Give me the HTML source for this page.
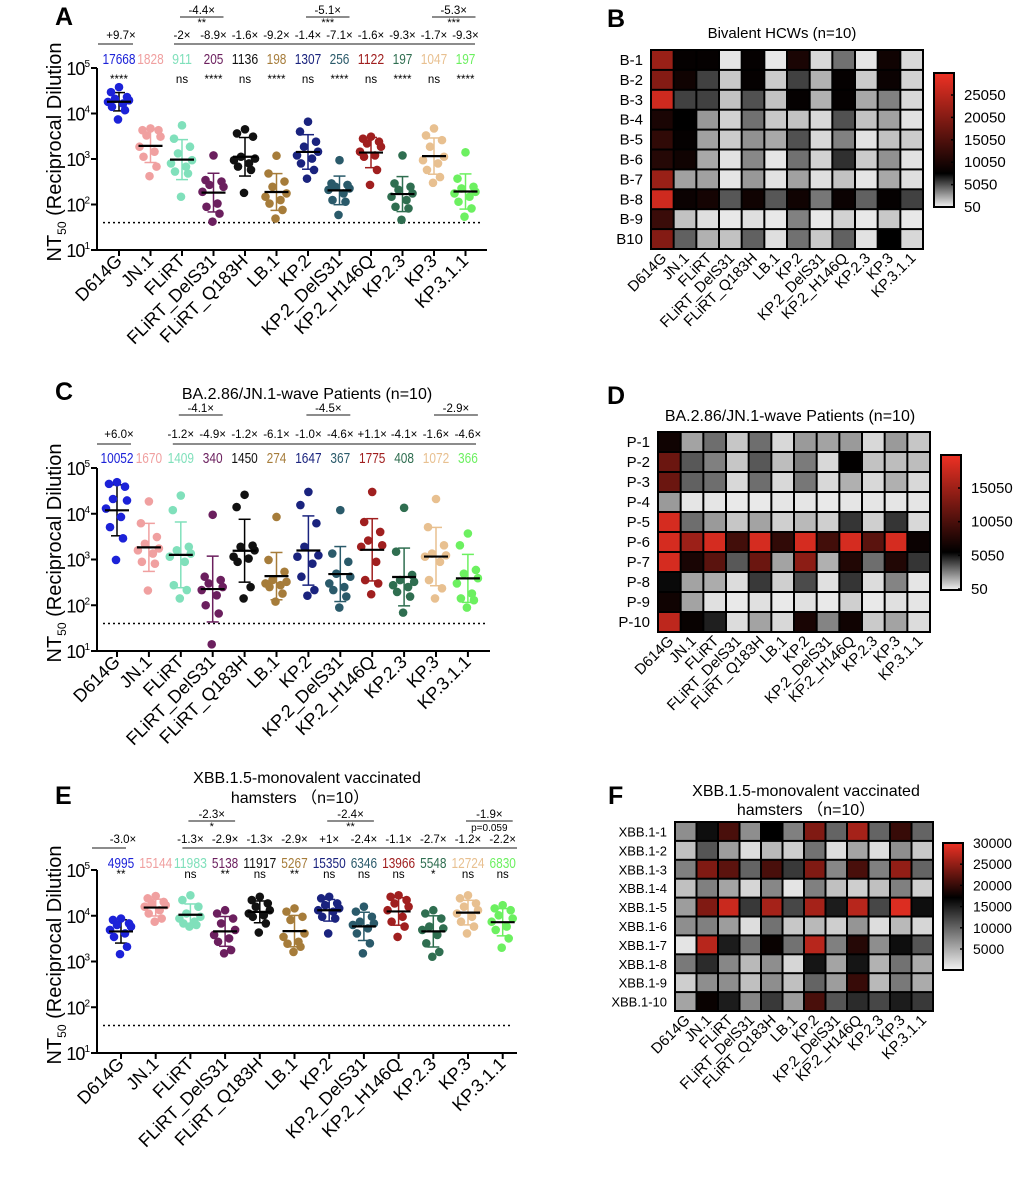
<!DOCTYPE html>
<html><head><meta charset="utf-8">
<style>
html,body{margin:0;padding:0;background:#fff;}
svg{display:block;font-family:"Liberation Sans",Arial,sans-serif;}
</style></head>
<body>
<svg id="fig" width="1020" height="1200" viewBox="0 0 1020 1200" xmlns="http://www.w3.org/2000/svg">
<rect x="0" y="0" width="1020" height="1200" fill="#fff"/>
<text x="55" y="25" font-size="25" font-weight="bold">A</text>
<text x="607" y="27" font-size="25" font-weight="bold">B</text>
<text x="55" y="400" font-size="25" font-weight="bold">C</text>
<text x="607" y="404" font-size="25" font-weight="bold">D</text>
<text x="55" y="804" font-size="25" font-weight="bold">E</text>
<text x="608" y="804" font-size="25" font-weight="bold">F</text>
<text x="782" y="38" font-size="15" text-anchor="middle">Bivalent HCWs (n=10)</text>
<text x="307" y="399" font-size="16" text-anchor="middle">BA.2.86/JN.1-wave Patients (n=10)</text>
<text x="790" y="421" font-size="16" text-anchor="middle">BA.2.86/JN.1-wave Patients (n=10)</text>
<text x="307" y="783" font-size="16" text-anchor="middle">XBB.1.5-monovalent vaccinated</text>
<text x="300" y="803" font-size="16" text-anchor="middle">hamsters （n=10）</text>
<text x="806" y="796" font-size="16" text-anchor="middle">XBB.1.5-monovalent vaccinated</text>
<text x="806" y="815" font-size="16" text-anchor="middle">hamsters （n=10）</text>
<defs>
<linearGradient id="gB" x1="0" y1="0" x2="0" y2="1"><stop offset="0" stop-color="#ee3124"/><stop offset="0.75" stop-color="#000"/><stop offset="1" stop-color="#f2f2f2"/></linearGradient>
<linearGradient id="gD" x1="0" y1="0" x2="0" y2="1"><stop offset="0" stop-color="#ee3124"/><stop offset="0.72" stop-color="#000"/><stop offset="1" stop-color="#f2f2f2"/></linearGradient>
<linearGradient id="gF" x1="0" y1="0" x2="0" y2="1"><stop offset="0" stop-color="#ee3124"/><stop offset="0.43" stop-color="#000"/><stop offset="1" stop-color="#f2f2f2"/></linearGradient>
</defs>
</svg>
<script>
const categories=['D614G','JN.1','FLiRT','FLiRT_DelS31','FLiRT_Q183H','LB.1','KP.2','KP.2_DelS31','KP.2_H146Q','KP.2.3','KP.3','KP.3.1.1'];
const groupColors=['#1c22d8','#f0a0a0','#80e0bb','#6b1f5e','#111111','#a67c3a','#1a237e','#2a5a6a','#a01f1f','#2f6e50','#e8c090','#6cf060'];

const titersA=[
[38000,29500,23000,21000,19500,18000,16500,14000,11800,7400],
[4700,4300,4300,3300,3100,1860,1450,1120,680,420],
[5500,2800,1860,1330,940,800,680,530,480,148],
[1200,345,320,270,245,190,105,89,63,42],
[4500,3650,3100,1120,1020,940,800,680,575,180],
[1180,480,320,245,175,148,125,105,76,49],
[6600,4000,2400,1860,1450,1200,1020,800,575,370],
[940,290,270,245,225,210,175,125,115,59],
[3100,2800,2400,2200,1860,1450,1200,1120,575,270],
[1200,290,245,210,175,148,125,89,82,46],
[4700,3300,2600,1860,1120,940,800,575,400,300],
[1400,370,245,225,190,175,148,115,82,54]];
const foldA=['+9.7×','','-2×','-8.9×','-1.6×','-9.2×','-1.4×','-7.1×','-1.6×','-9.3×','-1.7×','-9.3×'];
const valuesA=['17668','1828','911','205','1136','198','1307','256','1122','197','1047','197'];
const starsA=['****','','ns','****','ns','****','ns','****','ns','****','ns','****'];
const bracketsA=[[2,3,'-4.4×','**'],[6,7,'-5.1×','***'],[10,11,'-5.3×','***']];

const titersC=[
[49000,45000,39000,21000,19500,13000,8500,5100,2900,980],
[18600,6200,3100,2200,1740,1590,1350,890,810,210],
[25000,12000,1900,1590,1350,1150,890,275,215,141],
[9500,420,355,300,250,215,165,100,66,14],
[26000,14000,2000,1900,1590,1150,1050,890,250,141],
[8500,980,540,355,325,300,275,250,180,120],
[30000,15500,6200,1900,1230,1150,810,420,215,162],
[12000,1350,890,490,420,300,250,215,155,89],
[30000,6600,4000,2600,2040,1900,890,355,300,174],
[13500,1480,460,355,325,275,250,195,155,69],
[21000,5100,2040,1350,1230,1150,890,355,235,141],
[3700,2040,590,490,390,300,180,141,129,89]];
const foldC=['+6.0×','','-1.2×','-4.9×','-1.2×','-6.1×','-1.0×','-4.6×','+1.1×','-4.1×','-1.6×','-4.6×'];
const valuesC=['10052','1670','1409','340','1450','274','1647','367','1775','408','1072','366'];
const starsC=['','','','','','','','','','','',''];
const bracketsC=[[2,3,'-4.1×',''],[6,7,'-4.5×',''],[10,11,'-2.9×','']];

const titersE=[
[8700,8100,6800,6300,5800,4900,4100,3450,2100,1450],
[27000,24000,20000,18600,17000,15800,13200,11200,8700,7400],
[28000,22000,15800,11200,9500,8700,7400,6800,6300,5800],
[13200,11200,8700,6800,4900,3800,3200,2700,1780,1510],
[26000,22000,18600,15800,13200,11200,10200,9500,6800,4300],
[14500,12300,9500,8100,4100,3450,2700,2450,2100,1620],
[26000,24000,18600,17000,14500,13200,12300,9500,8700,4100],
[15800,12300,9500,7400,6800,6300,5300,4100,2500,1510],
[28000,26000,22000,18600,15800,13200,9500,7400,5800,3450],
[13200,11200,8700,5800,5300,4900,3800,2500,1620,1270],
[28000,24000,18600,15800,13200,11200,9500,7400,5800,4100],
[17000,14500,13200,10200,8700,7400,5800,4900,3200,2000]];
const foldE=['-3.0×','','-1.3×','-2.9×','-1.3×','-2.9×','+1×','-2.4×','-1.1×','-2.7×','-1.2×','-2.2×'];
const valuesE=['4995','15144','11983','5138','11917','5267','15350','6346','13966','5548','12724','6830'];
const starsE=['**','','ns','**','ns','**','ns','ns','ns','*','ns','ns'];
const bracketsE=[[2,3,'-2.3×','*'],[6,7,'-2.4×','**'],[10,11,'-1.9×','p=0.059']];

const rowsB=['B-1','B-2','B-3','B-4','B-5','B-6','B-7','B-8','B-9','B10'];
const heatB=[
[22,8,8,0.4,8,0.3,10,0.8,4,0.4,9,0.8],
[20,9,5.5,1.3,8,1.2,5.5,2,8,1.2,8.5,1],
[27,5.5,5.5,1.5,5,1.5,8,2,8,2.3,3.5,0.8],
[10,7.5,2.8,1,4,1.3,1.5,0.8,5,1.5,2.5,0.5],
[12,8,2.5,1.2,3,2.3,5,0.8,3.5,0.5,1.5,1.2],
[11,9,2.3,0.5,3.3,0.4,4,1,6,1.2,3,0.5],
[22,2.5,2.5,0.4,2.8,0.5,2.5,0.6,1.5,0.4,2.3,0.6],
[27,8.5,9.5,4.8,9,4.8,9,3.8,8.5,4.5,8,5.5],
[13,1.5,0.6,0.3,0.6,0.3,3.5,0.3,1,0.3,1.3,0.3],
[20,4.5,2,1.5,4.5,0.6,4,1.3,4.5,0.5,7.5,0.8]];
const rowsD=['P-1','P-2','P-3','P-4','P-5','P-6','P-7','P-8','P-9','P-10'];
const heatD=[
[6.5,1.8,3,1,3,0.6,2,1.8,2,0.6,2,1],
[12,3.5,2.6,1,3.5,1.2,2.7,0.6,5.6,1.1,1.2,1.2],
[12,3.3,3,0.6,3,0.6,2.8,0.6,1.5,0.6,1.5,0.6],
[2,0.3,0.3,0.2,0.2,0.3,0.3,0.2,0.3,0.3,0.3,0.3],
[18.5,3,2,1,1.8,0.8,1.3,0.8,4.3,0.8,4.3,0.6],
[18.5,15,18.5,9.5,18.5,8.5,18.5,9.5,18.5,11,18.5,6.2],
[18.5,7,11,3.5,12,1.8,14,1.5,7.5,3,7.5,4.3],
[5.3,1.8,1.6,0.5,4.2,0.8,3.8,0.4,4.3,0.5,2.5,0.3],
[6.5,1.8,0.4,0.2,0.4,0.2,0.4,0.2,0.8,0.2,0.4,0.3],
[17,6,4.8,0.5,1.8,0.6,7,2.5,6.5,0.9,1.8,0.5]];
const rowsF=['XBB.1-1','XBB.1-2','XBB.1-3','XBB.1-4','XBB.1-5','XBB.1-6','XBB.1-7','XBB.1-8','XBB.1-9','XBB.1-10'];
const heatF=[
[7,16,21,7,17,8,24,10,26,10,20,10],
[3.5,11,6,1.5,4,2.5,9,1.5,5.5,1.5,7,3],
[8,24,22,10,21,13,24,7.5,21,8,25,10],
[3.5,8,5.5,2,7.5,1,8,3.5,2.5,3.5,8,2.5],
[6,24,28,13,26,12,26,15,27,12,29,16],
[7,8,6,1.5,9,3,4,2.5,6.5,1.5,4,2],
[1,27,15,9,17.5,9,27,8,19,7,16,11],
[8.5,14,7.5,4,7,2,15.5,5.5,15.5,4.5,9,5],
[2.5,7,7,3.5,7,3.5,10,6,20,4,8.5,5],
[5.5,17.5,15,7.5,13,6,21,11,14,12,15,13]];
const ticksB=['25050','20050','15050','10050','5050','50'];
const ticksD=['15050','10050','5050','50'];
const ticksF=['30000','25000','20000','15000','10000','5000'];

const NS='http://www.w3.org/2000/svg';
const svg=document.getElementById('fig');
function mk(tag,attrs,parent){const e=document.createElementNS(NS,tag);for(const k in attrs)e.setAttribute(k,attrs[k]);(parent||svg).appendChild(e);return e;}

function drawScatter(id,L,titers,fold,values,stars,brackets){
  const g=mk('g',{});
  
  
  const dec=(L.yBot-L.yTop)/4;
  const ys=v=>L.yBot-(Math.log10(v)-1)*dec;
  const xs=i=>L.c0+i*L.step;
  const ya=mk('line',{x1:L.x0,y1:L.yTop,x2:L.x0,y2:L.yBot+1,stroke:'#000','stroke-width':2},g);
  
  
  const xa=mk('line',{x1:L.x0-1,y1:L.yBot,x2:L.xEnd,y2:L.yBot,stroke:'#000','stroke-width':2},g);
  
  
  for(let p=1;p<=5;p++){
    const y=ys(Math.pow(10,p));
    mk('line',{x1:L.x0-6,y1:y,x2:L.x0,y2:y,stroke:'#000','stroke-width':2},g);
    const t=mk('text',{x:L.x0-8,y:y+7,'font-size':18,'text-anchor':'end','letter-spacing':'-1'},g);
    
    
    t.textContent='10';
    const s=mk('tspan',{dy:-8,'font-size':10},t);s.textContent=String(p);
  }
  const yt=mk('text',{transform:'translate('+(L.x0-36)+','+L.yMid+') rotate(-90)','font-size':20,'text-anchor':'middle'},g);
  
  
  yt.textContent='NT';
  const sb=mk('tspan',{dy:5,'font-size':12},yt);sb.textContent='50';
  const rs=mk('tspan',{dy:-5},yt);rs.textContent=' (Reciprocal Dilution';
  const dl=mk('line',{x1:L.x0+6,y1:ys(40),x2:L.xEnd-4,y2:ys(40),stroke:'#000','stroke-width':1.5,'stroke-dasharray':'2,3'},g);
  
  
  const jit=[0,-8,8,-4,10,-11,4,-7,6,-1];
  categories.forEach((c,i)=>{
    const cx=xs(i), col=groupColors[i];
    mk('line',{x1:cx,y1:L.yBot,x2:cx,y2:L.yBot+6,stroke:'#000','stroke-width':2},g);
    const lb=mk('text',{transform:'translate('+(cx+4)+','+(L.yBot+12)+') rotate(-45)','font-size':18,'text-anchor':'end'},g);
    
    
    lb.textContent=c;
    const vals=titers[i];
    const logs=vals.map(v=>Math.log10(v));
    const m=logs.reduce((a,b)=>a+b,0)/logs.length;
    const sd=Math.sqrt(logs.reduce((a,b)=>a+(b-m)*(b-m),0)/(logs.length-1));
    const yHi=ys(Math.pow(10,m+sd)), yLo=ys(Math.pow(10,m-sd)), yM=ys(Math.pow(10,m));
    const ec=(i===0||i===4)?'#000':col;
    mk('line',{x1:cx,y1:yHi,x2:cx,y2:yLo,stroke:ec,'stroke-width':1.5},g);
    mk('line',{x1:cx-6,y1:yHi,x2:cx+6,y2:yHi,stroke:ec,'stroke-width':1.5},g);
    mk('line',{x1:cx-6,y1:yLo,x2:cx+6,y2:yLo,stroke:ec,'stroke-width':1.5},g);
    vals.forEach((v,k)=>{
      const pt=mk('circle',{cx:cx+jit[k],cy:ys(v),r:4.3,fill:col},g);
      
      
    });
    const ml=mk('line',{x1:cx-12,y1:yM,x2:cx+12,y2:yM,stroke:'#000','stroke-width':2.2},g);
    
    
    const vt=mk('text',{x:cx,y:L.valY,'font-size':14.5,'text-anchor':'middle',fill:col,textLength:values[i].length*6.6,lengthAdjust:'spacingAndGlyphs'},g);
    
    
    vt.textContent=values[i];
    if(stars[i]){const st=mk('text',{x:cx,y:L.starY,'font-size':11.5,'text-anchor':'middle'},g);
      
      
      st.textContent=stars[i];}
    if(fold[i]){const ft=mk('text',{x:cx+(i===0?2:0),y:L.foldY,'font-size':11.5,'text-anchor':'middle'},g);
      
      
      ft.textContent=fold[i];}
  });
  mk('line',{x1:xs(0)-L.s0,y1:L.lineY,x2:xs(0)+L.s1,y2:L.lineY,stroke:'#666','stroke-width':1.5},g);
  mk('line',{x1:xs(2)-8,y1:L.lineY,x2:L.longEnd,y2:L.lineY,stroke:'#666','stroke-width':1.5},g);
  brackets.forEach(b=>{
    const a=xs(b[0])-2,e=xs(b[1])+10,c=(a+e)/2;
    const bl=mk('line',{x1:a,y1:L.bLine,x2:e,y2:L.bLine,stroke:'#666','stroke-width':1.5},g);
    
    
    const bt=mk('text',{x:c,y:L.bLine-3,'font-size':11.5,'text-anchor':'middle'},g);
    bt.textContent=b[2];
    if(b[3]){const bs=mk('text',{x:c,y:L.bLine+(b[3][0]==='p'?10:9),'font-size':b[3][0]==='p'?10:11,'text-anchor':'middle'},g);bs.textContent=b[3];}
  });
}

function heatColor(v,k,max){
  if(v<=k){const g=Math.round(242*(1-v/k));return 'rgb('+g+','+g+','+g+')';}
  const t=Math.min(1,(v-k)/(max-k));
  return 'rgb('+Math.round(238*t)+','+Math.round(49*t)+','+Math.round(36*t)+')';
}
function drawHeat(id,L,rows,data,k,max,grad,ticks){
  const g=mk('g',{});
  
  
  const cw=(L.x1-L.x0)/12, ch=(L.y1-L.y0)/10;
  mk('rect',{x:L.x0,y:L.y0,width:L.x1-L.x0,height:L.y1-L.y0,fill:'#000'},g);
  data.forEach((row,r)=>{
    row.forEach((v,c)=>{
      const cell=mk('rect',{x:L.x0+c*cw+1,y:L.y0+r*ch+1,width:cw-2,height:ch-2,fill:heatColor(v,k,max)},g);
      
      
    });
    const rl=mk('text',{x:L.x0-8,y:L.y0+(r+0.5)*ch+5,'font-size':L.fs,'text-anchor':'end'},g);
    
    
    rl.textContent=rows[r];
  });
  mk('rect',{x:L.x0,y:L.y0,width:L.x1-L.x0,height:L.y1-L.y0,fill:'none',stroke:'#000','stroke-width':2},g);
  categories.forEach((c,i)=>{
    const cx=L.x0+(i+0.5)*cw;
    const t=mk('text',{transform:'translate('+(cx+5)+','+(L.y1+10)+') rotate(-45)','font-size':15,'text-anchor':'end'},g);
    
    
    t.textContent=c;
  });
  const cb=mk('rect',{x:L.cbx,y:L.cby0,width:20,height:L.cby1-L.cby0,fill:'url(#'+grad+')',stroke:'#000','stroke-width':2},g);
  
  
  ticks.forEach((tx,i)=>{
    const y=L.tick0+i*(L.tick1-L.tick0)/(ticks.length-1);
    mk('line',{x1:L.cbx+17,y1:y,x2:L.cbx+20,y2:y,stroke:'#000','stroke-width':1.5},g);
    const t=mk('text',{x:L.cbx+30,y:y+5,'font-size':L.tfs},g);
    
    
    t.textContent=tx;
  });
}

drawScatter('a',{x0:97,xEnd:487,yTop:68,yBot:250,yMid:152,c0:119,step:31.5,valY:64,starY:83,foldY:39,lineY:44,s0:21,s1:14,longEnd:475,bLine:17},titersA,foldA,valuesA,starsA,bracketsA);
drawScatter('c',{x0:97,xEnd:490,yTop:468,yBot:651,yMid:553,c0:117,step:31.9,valY:463,starY:470,foldY:438,lineY:444,s0:20,s1:14,longEnd:476,bLine:415},titersC,foldC,valuesC,starsC,bracketsC);
drawScatter('e',{x0:97,xEnd:517,yTop:870,yBot:1053,yMid:955,c0:121,step:34.7,valY:868,starY:878,foldY:843,lineY:848,s0:29,s1:5,longEnd:517,bLine:821},titersE,foldE,valuesE,starsE,bracketsE);

drawHeat('b',{x0:651,x1:923,y0:50,y1:249,cbx:934,cby0:73,cby1:207,tick0:95,tick1:207,fs:15,tfs:15},rowsB,heatB,7.5,30,'gB',ticksB);
drawHeat('d',{x0:658,x1:930,y0:432,y1:632,cbx:941,cby0:455,cby1:590,tick0:488,tick1:589,fs:15,tfs:15},rowsD,heatD,5.5,20,'gD',ticksD);
drawHeat('f',{x0:675,x1:933,y0:822,y1:1011,cbx:943,cby0:843,cby1:970,tick0:843,tick1:949,fs:13,tfs:14},rowsF,heatF,17,30,'gF',ticksF);
</script>
</body></html>
